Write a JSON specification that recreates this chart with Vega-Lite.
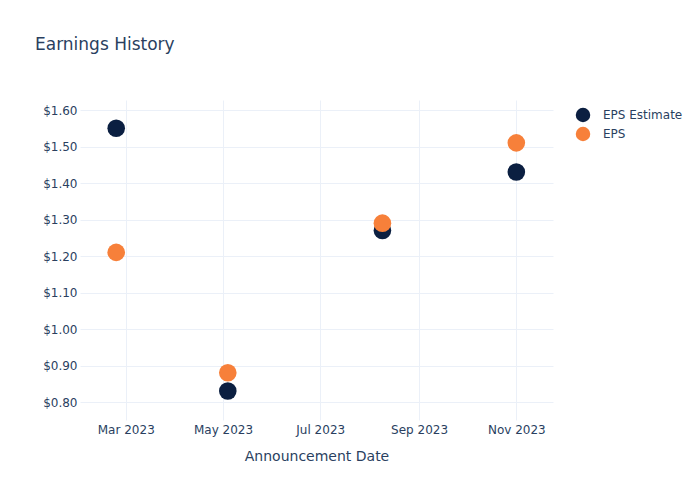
{
  "$schema": "https://vega.github.io/schema/vega-lite/v6.json",
  "width": 473,
  "height": 320,
  "autosize": {"type": "none"},
  "padding": {"left": 80, "top": 100, "right": 147, "bottom": 80},
  "background": "white",
  "title": {
    "text": "Earnings History",
    "anchor": "start",
    "frame": "group",
    "dx": -45,
    "offset": 46,
    "fontSize": 17,
    "font": "DejaVu Sans",
    "fontWeight": "normal",
    "color": "#2a3f5f"
  },
  "config": {
    "view": {"stroke": null},
    "font": "DejaVu Sans"
  },
  "data": {
    "values": [
      {"date": "2023-02-23", "series": "EPS Estimate", "value": 1.55},
      {"date": "2023-05-04", "series": "EPS Estimate", "value": 0.83},
      {"date": "2023-08-09", "series": "EPS Estimate", "value": 1.27},
      {"date": "2023-11-01", "series": "EPS Estimate", "value": 1.43},
      {"date": "2023-02-23", "series": "EPS", "value": 1.21},
      {"date": "2023-05-04", "series": "EPS", "value": 0.88},
      {"date": "2023-08-09", "series": "EPS", "value": 1.29},
      {"date": "2023-11-01", "series": "EPS", "value": 1.51}
    ]
  },
  "mark": {"type": "circle", "size": 310, "opacity": 1},
  "encoding": {
    "x": {
      "field": "date",
      "type": "temporal",
      "title": "Announcement Date",
      "scale": {
        "type": "utc",
        "domain": [
          {"year": 2023, "month": 1, "date": 31, "hours": 7, "utc": true},
          {"year": 2023, "month": 11, "date": 24, "utc": true}
        ]
      },
      "axis": {
        "values": [
          {"year": 2023, "month": 3, "date": 1, "utc": true},
          {"year": 2023, "month": 5, "date": 1, "utc": true},
          {"year": 2023, "month": 7, "date": 1, "utc": true},
          {"year": 2023, "month": 9, "date": 1, "utc": true},
          {"year": 2023, "month": 11, "date": 1, "utc": true}
        ],
        "labelExpr": "utcFormat(datum.value, '%b %Y')",
        "grid": true,
        "gridColor": "#ebf0f8",
        "gridWidth": 1,
        "domain": false,
        "ticks": false,
        "labelPadding": 4,
        "labelFontSize": 12,
        "labelColor": "#2a3f5f",
        "labelFont": "DejaVu Sans",
        "titleFont": "DejaVu Sans",
        "titleFontSize": 14,
        "titleFontWeight": "normal",
        "titleColor": "#2a3f5f",
        "titlePadding": 14
      }
    },
    "y": {
      "field": "value",
      "type": "quantitative",
      "title": null,
      "scale": {"domain": [0.7507, 1.6274], "nice": false, "zero": false},
      "axis": {
        "values": [0.8, 0.9, 1.0, 1.1, 1.2, 1.3, 1.4, 1.5, 1.6],
        "format": "$.2f",
        "grid": true,
        "gridColor": "#ebf0f8",
        "gridWidth": 1,
        "domain": false,
        "ticks": false,
        "labelPadding": 3,
        "labelFontSize": 12,
        "labelColor": "#2a3f5f",
        "labelFont": "DejaVu Sans"
      }
    },
    "color": {
      "field": "series",
      "type": "nominal",
      "scale": {"domain": ["EPS Estimate", "EPS"], "range": ["#0b1f41", "#f7803a"]},
      "legend": {
        "title": null,
        "orient": "none",
        "legendX": 495,
        "legendY": 7,
        "symbolType": "circle",
        "symbolSize": 210,
        "symbolOpacity": 1,
        "labelFontSize": 12,
        "labelColor": "#2a3f5f",
        "labelFont": "DejaVu Sans",
        "labelOffset": 12,
        "rowPadding": 3,
        "padding": 0
      }
    },
    "order": {"field": "series", "sort": "descending"}
  }
}
